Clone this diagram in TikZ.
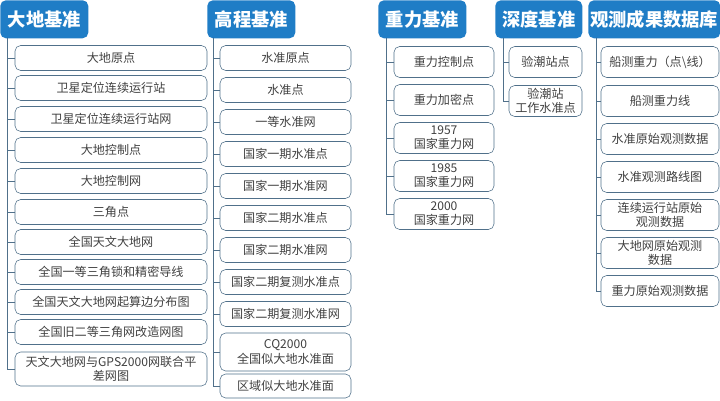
\documentclass[tikz,border=0pt]{standalone}
\usepackage{fontspec}
\setmainfont{Noto Sans CJK SC}
\usetikzlibrary{positioning}
\definecolor{hdblue}{HTML}{1F7DC6}
\definecolor{boxline}{HTML}{50708A}
\tikzset{%
	head/.style  = {fill=hdblue, rounded corners=4pt, text=white, font=\bfseries\fontsize{13}{15}\selectfont, anchor=north west, inner sep=0pt},
	leaf/.style  = {draw=boxline, rounded corners=4pt, font=\fontsize{8.6}{10}\selectfont, align=center, inner sep=1pt, text=black!75},
	branch/.style= {draw=boxline, line width=0.5pt},
}
\begin{document}
\begin{tikzpicture}[x=0.025cm,y=-0.025cm]
	\useasboundingbox (0,0) rectangle (720,400);
	% headers
	\node [head,minimum width=88*0.025cm,minimum height=38*0.025cm] (h1) at (0,0) {大地基准};
	\node [head,minimum width=88*0.025cm,minimum height=38*0.025cm] (h2) at (207,0) {高程基准};
	\node [head,minimum width=88*0.025cm,minimum height=38*0.025cm] (h3) at (378,0) {重力基准};
	\node [head,minimum width=87*0.025cm,minimum height=38*0.025cm] (h4) at (495,0) {深度基准};
	\node [head,minimum width=132*0.025cm,minimum height=38*0.025cm] (h5) at (588,0) {观测成果数据库};
	\coordinate (t1) at (7,38);
	\coordinate (t2) at (213,38);
	\coordinate (t3) at (386,38);
	\coordinate (t4) at (503,38);
	\coordinate (t5) at (596,38);

	% column 1
	\foreach \txt/\y [count=\i] in {大地原点/58,卫星定位连续运行站/88,卫星定位连续运行站网/119,大地控制点/150,大地控制网/181,三角点/212,全国天文大地网/242,全国一等三角锁和精密导线/272,全国天文大地网起算边分布图/302,全国旧二等三角网改造网图/332}{
		\node [leaf,minimum width=192*0.025cm,minimum height=25*0.025cm] (a\i) at (111,\y) {\txt};
		\draw [branch] (t1) |- (a\i.west);
	}
	\node [leaf,minimum width=192*0.025cm,minimum height=34*0.025cm] (a11) at (111,369) {天文大地网与GPS2000网联合平\\差网图};
	\draw [branch] (t1) |- (a11.west);

	% column 2
	\foreach \txt/\y [count=\i] in {水准原点/58,水准点/90,一等水准网/122,国家一期水准点/154,国家一期水准网/186,国家二期水准点/218,国家二期水准网/250,国家二期复测水准点/282,国家二期复测水准网/314}{
		\node [leaf,minimum width=131*0.025cm,minimum height=25*0.025cm] (b\i) at (285.5,\y) {\txt};
		\draw [branch] (t2) |- (b\i.west);
	}
	\node [leaf,minimum width=131*0.025cm,minimum height=38*0.025cm] (b10) at (285.5,352) {CQ2000\\全国似大地水准面};
	\node [leaf,minimum width=131*0.025cm,minimum height=24*0.025cm] (b11) at (285.5,386) {区域似大地水准面};
	\draw [branch] (t2) |- (b10.west);
	\draw [branch] (t2) |- (b11.west);

	% column 3
	\foreach \txt/\y [count=\i] in {重力控制点/62,重力加密点/100,1957\\国家重力网/138,1985\\国家重力网/176,2000\\国家重力网/214}{
		\node [leaf,minimum width=100*0.025cm,minimum height=31*0.025cm] (c\i) at (444,\y) {\txt};
		\draw [branch] (t3) |- (c\i.west);
	}

	% column 4
	\foreach \txt/\y [count=\i] in {验潮站点/62,验潮站\\工作水准点/101}{
		\node [leaf,minimum width=73*0.025cm,minimum height=31*0.025cm] (d\i) at (545.5,\y) {\txt};
		\draw [branch] (t4) |- (d\i.west);
	}

	% column 5
	\foreach \txt/\y [count=\i] in {船测重力（点\textbackslash 线）/62,船测重力线/101,水准原始观测数据/139,水准观测路线图/177,连续运行站原始\\观测数据/215,大地网原始观测\\数据/253,重力原始观测数据/291}{
		\node [leaf,minimum width=118*0.025cm,minimum height=31*0.025cm] (e\i) at (660,\y) {\txt};
		\draw [branch] (t5) |- (e\i.west);
	}
\end{tikzpicture}
\end{document}
